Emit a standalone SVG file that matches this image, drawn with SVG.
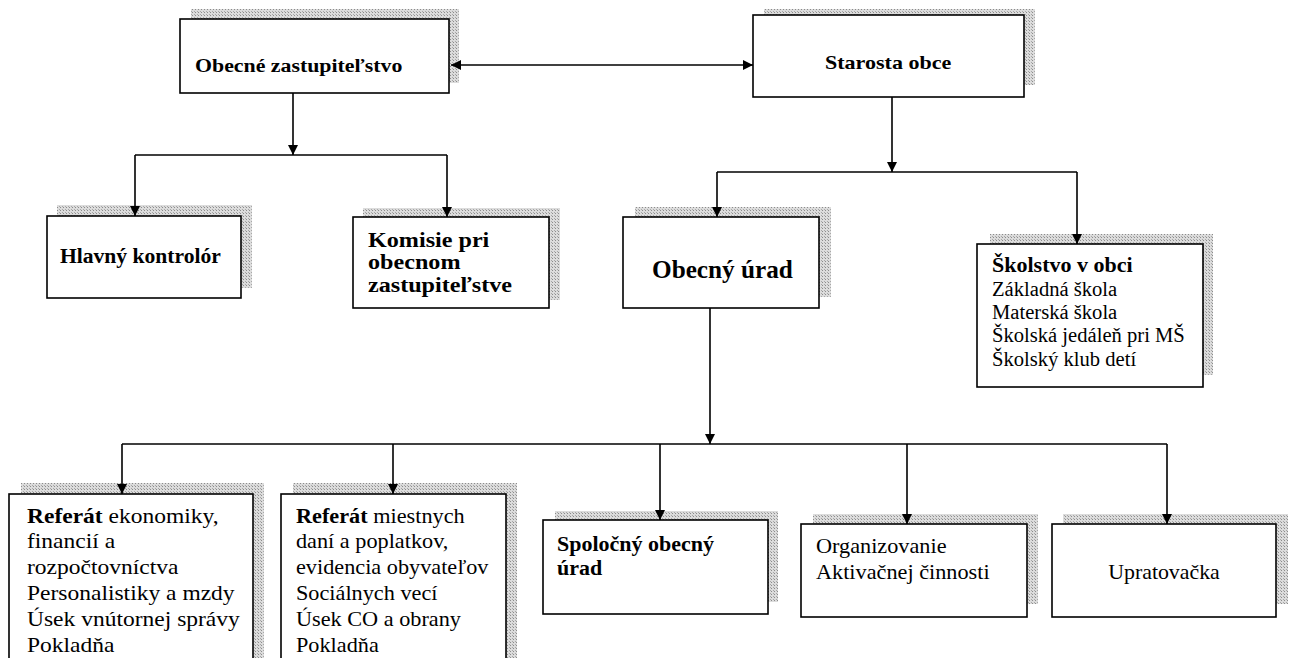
<svg xmlns="http://www.w3.org/2000/svg" width="1290" height="658" viewBox="0 0 1290 658">
<style>
.box{fill:#fff;stroke:#000;stroke-width:1.6}
.sh{fill:url(#stip)}
.con{fill:none;stroke:#000;stroke-width:1.6}
text{font-family:"Liberation Serif","Times New Roman",serif;fill:#000}
.b{font-weight:bold}
</style>
<defs>
<pattern id="stip" width="3" height="3" patternUnits="userSpaceOnUse">
<rect width="3" height="3" fill="#dcdcdc"/>
<rect width="1" height="1" fill="#8c8c8c"/>
<rect x="2" y="2" width="1" height="1" fill="#a8a8a8"/>
</pattern>
<marker id="ah" viewBox="0 0 10 10" refX="10" refY="5" markerUnits="userSpaceOnUse" markerWidth="11" markerHeight="10" orient="auto-start-reverse">
<path d="M0,0 L10,5 L0,10 Z" fill="#000"/>
</marker>
</defs>
<rect width="1290" height="658" fill="#fff"/>

<g id="zastupitelstvo">
<rect class="sh" x="191" y="9" width="268" height="74"/>
<rect class="box" x="180" y="19" width="269" height="74"/>
<text class="b" font-size="19" transform="translate(195 72) scale(1.15 1)">Obecné zastupiteľstvo</text>
</g>

<g id="starosta">
<rect class="sh" x="764" y="9" width="271" height="76"/>
<rect class="box" x="753" y="15" width="271" height="82"/>
<text class="b" font-size="19" transform="translate(825 69) scale(1.16 1)">Starosta obce</text>
</g>

<g id="kontrolor">
<rect class="sh" x="57" y="205" width="195" height="83"/>
<rect class="box" x="47" y="216" width="194" height="82"/>
<text class="b" font-size="20" transform="translate(60 263) scale(1.08 1)">Hlavný kontrolór</text>
</g>

<g id="komisie">
<rect class="sh" x="363" y="208" width="197" height="92"/>
<rect class="box" x="353" y="217" width="196" height="91"/>
<text class="b" font-size="21" transform="translate(368 0) scale(1.15 1)"><tspan x="0" y="247">Komisie pri</tspan><tspan x="0" y="269">obecnom</tspan><tspan x="0" y="292">zastupiteľstve</tspan></text>
</g>

<g id="urad">
<rect class="sh" x="635" y="207" width="196" height="90"/>
<rect class="box" x="623" y="217" width="196" height="91"/>
<text class="b" font-size="25" transform="translate(652 278) scale(1.01 1)">Obecný úrad</text>
</g>

<g id="skolstvo">
<rect class="sh" x="990" y="234" width="223" height="141"/>
<rect class="box" x="977" y="244" width="226" height="143"/>
<text class="b" font-size="20" transform="translate(992 272) scale(1.1 1)">Školstvo v obci</text>
<text font-size="20" transform="translate(992 0) scale(1.03 1)"><tspan x="0" y="296">Základná škola</tspan><tspan x="0" y="319">Materská škola</tspan><tspan x="0" y="342">Školská jedáleň pri MŠ</tspan><tspan x="0" y="366">Školský klub detí</tspan></text>
</g>

<g id="referat-ekonomiky">
<rect class="sh" x="21" y="483" width="243" height="200"/>
<rect class="box" x="9" y="494" width="244" height="200"/>
<text font-size="21" transform="translate(27 0) scale(1.12 1)"><tspan x="0" y="523"><tspan class="b">Referát</tspan> ekonomiky,</tspan><tspan x="0" y="548">financií a</tspan><tspan x="0" y="574">rozpočtovníctva</tspan><tspan x="0" y="600">Personalistiky a mzdy</tspan><tspan x="0" y="626">Úsek vnútornej správy</tspan><tspan x="0" y="652">Pokladňa</tspan></text>
</g>

<g id="referat-dani">
<rect class="sh" x="293" y="483" width="224" height="200"/>
<rect class="box" x="281" y="494" width="225" height="200"/>
<text font-size="21" transform="translate(296 0) scale(1.06 1)"><tspan x="0" y="523"><tspan class="b">Referát</tspan> miestnych</tspan><tspan x="0" y="548">daní a poplatkov,</tspan><tspan x="0" y="574">evidencia obyvateľov</tspan><tspan x="0" y="600">Sociálnych vecí</tspan><tspan x="0" y="626">Úsek CO a obrany</tspan><tspan x="0" y="652">Pokladňa</tspan></text>
</g>

<g id="spolocny">
<rect class="sh" x="555" y="511" width="223" height="91"/>
<rect class="box" x="543" y="520" width="225" height="94"/>
<text class="b" font-size="20" transform="translate(557 0) scale(1.1 1)"><tspan x="0" y="551">Spoločný obecný</tspan><tspan x="0" y="575">úrad</tspan></text>
</g>

<g id="aktivacne">
<rect class="sh" x="813" y="514" width="225" height="90"/>
<rect class="box" x="801" y="524" width="226" height="93"/>
<text font-size="21" transform="translate(816 0) scale(1.06 1)"><tspan x="0" y="553">Organizovanie</tspan><tspan x="0" y="579">Aktivačnej činnosti</tspan></text>
</g>

<g id="upratovacka">
<rect class="sh" x="1063" y="514" width="225" height="90"/>
<rect class="box" x="1052" y="524" width="224" height="93"/>
<text font-size="21" text-anchor="middle" transform="translate(1164 579) scale(1.04 1)">Upratovačka</text>
</g>

<g id="connectors">
<path class="con" d="M451,65 L753,65" marker-start="url(#ah)" marker-end="url(#ah)"/>
<path class="con" d="M293,93 L293,155" marker-end="url(#ah)"/>
<path class="con" d="M135,155 L447,155"/>
<path class="con" d="M135,155 L135,216" marker-end="url(#ah)"/>
<path class="con" d="M447,155 L447,217" marker-end="url(#ah)"/>
<path class="con" d="M892,97 L892,172" marker-end="url(#ah)"/>
<path class="con" d="M717,172 L1077,172"/>
<path class="con" d="M717,172 L717,217" marker-end="url(#ah)"/>
<path class="con" d="M1077,172 L1077,244" marker-end="url(#ah)"/>
<path class="con" d="M710,308 L710,444" marker-end="url(#ah)"/>
<path class="con" d="M122,444 L1167,444"/>
<path class="con" d="M122,444 L122,494" marker-end="url(#ah)"/>
<path class="con" d="M393,444 L393,494" marker-end="url(#ah)"/>
<path class="con" d="M660,444 L660,520" marker-end="url(#ah)"/>
<path class="con" d="M907,444 L907,524" marker-end="url(#ah)"/>
<path class="con" d="M1167,444 L1167,524" marker-end="url(#ah)"/>
</g>
</svg>
